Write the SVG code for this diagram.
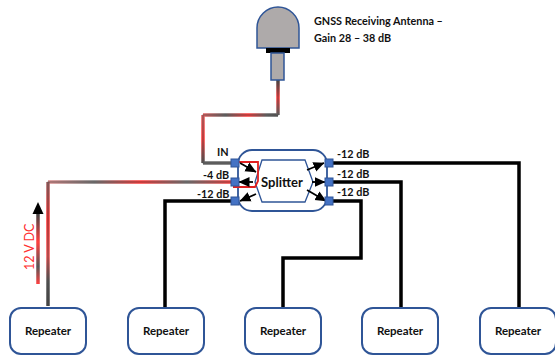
<svg xmlns="http://www.w3.org/2000/svg" width="555" height="356" viewBox="0 0 555 356">
<style>
text{font-family:Lato,"Liberation Sans",sans-serif;font-weight:700;font-size:10.800px;fill:#111}
.rep{fill:#fff;stroke:#2f5597;stroke-width:2}
.rep + text{font-size:11.500px}
.blk{fill:none;stroke:#000;stroke-width:3.5}
.port{fill:#4472c4;stroke:#2f5597;stroke-width:1}
.arr{fill:none;stroke:#000;stroke-width:1.8;marker-end:url(#ah)}
.grey{fill:#aeaaaa;stroke:#2f5597;stroke-width:1.5}
.halo{fill:none;stroke-width:3.500}
.core{fill:none;stroke:#444;stroke-width:1.200}
</style>
<defs>
<marker id="ah" markerUnits="userSpaceOnUse" markerWidth="11" markerHeight="11" refX="10.500" refY="5.500" orient="auto"><path d="M0 0.500L11 5.500L0 10.500Z" fill="#000"/></marker>
<linearGradient id="g1" gradientUnits="userSpaceOnUse" x1="48" y1="0" x2="233" y2="0"><stop offset="0" stop-color="#d98a8a"/><stop offset=".25" stop-color="#777"/><stop offset=".5" stop-color="#ff3a3a"/><stop offset=".75" stop-color="#777"/><stop offset="1" stop-color="#ff3a3a"/></linearGradient>
<linearGradient id="g2" gradientUnits="userSpaceOnUse" x1="0" y1="182" x2="0" y2="306"><stop offset="0" stop-color="#a06060"/><stop offset=".3" stop-color="#ff3030"/><stop offset=".6" stop-color="#ee5050"/><stop offset=".8" stop-color="#555"/><stop offset="1" stop-color="#444"/></linearGradient>
<linearGradient id="g3" gradientUnits="userSpaceOnUse" x1="0" y1="214" x2="0" y2="284"><stop offset="0" stop-color="#444"/><stop offset=".4" stop-color="#ff4040"/><stop offset=".75" stop-color="#555"/><stop offset="1" stop-color="#ff4040"/></linearGradient>
<linearGradient id="g4" gradientUnits="userSpaceOnUse" x1="203" y1="0" x2="278" y2="0"><stop offset="0" stop-color="#e06060"/><stop offset=".3" stop-color="#666"/><stop offset=".6" stop-color="#ff3a3a"/><stop offset=".85" stop-color="#666"/><stop offset="1" stop-color="#555"/></linearGradient>
<linearGradient id="g5" gradientUnits="userSpaceOnUse" x1="0" y1="80" x2="0" y2="115"><stop offset="0" stop-color="#444"/><stop offset=".5" stop-color="#ff3a3a"/><stop offset="1" stop-color="#666"/></linearGradient>
<linearGradient id="g6" gradientUnits="userSpaceOnUse" x1="0" y1="115" x2="0" y2="163"><stop offset="0" stop-color="#e06060"/><stop offset=".5" stop-color="#ff3a3a"/><stop offset="1" stop-color="#555"/></linearGradient>
</defs>
<g id="connectors">
<path class="halo" d="M278 115H203" stroke="url(#g4)"/>
<path class="halo" d="M278 80V115" stroke="url(#g5)"/>
<path class="halo" d="M203 115V163" stroke="url(#g6)"/>
<path class="halo" d="M203 163H232" stroke="#666"/>
<path class="halo" d="M48 182H232" stroke="url(#g1)"/>
<path class="halo" d="M48 306V182" stroke="url(#g2)"/>
<path class="core" d="M278 80V115H203V163H232" opacity=".55"/>
<path class="core" d="M48 306V182H232" opacity=".55"/>
<path class="blk" d="M165 308V201H232"/>
<path class="blk" d="M283 308V258H361V201H332"/>
<path class="blk" d="M401 308V182H332"/>
<path class="blk" d="M519 308V163H332"/>
<path d="M38 284V214" fill="none" stroke="url(#g3)" stroke-width="3.500"/>
<path d="M38 202L43.500 214H32.500Z" fill="#000"/>
</g>
<g id="antenna">
<path class="grey" d="M257 48V28C257 16 267 7 278 7S299 16 299 28V48Z"/>
<rect x="266" y="48" width="24" height="5" fill="#000"/>
<rect class="grey" x="271" y="53" width="13" height="27"/>
<text x="314" y="25">GNSS Receiving Antenna –</text>
<text x="314" y="42">Gain 28 – 38 dB</text>
</g>
<g id="splitter">
<rect x="238" y="150" width="89" height="61" rx="14" fill="#fff" stroke="#2f5597" stroke-width="1.800"/>
<path d="M262 160H305L313 182L305 202H262L255 182Z" fill="#fff" stroke="#2f5597" stroke-width="1.300"/>
<path d="M233 162H258V181L255 187H233" fill="none" stroke="#e02020" stroke-width="1.800"/>
<path class="arr" d="M240 163L256 172"/>
<path class="arr" d="M253 182L239 182"/>
<path class="arr" d="M256 194L240 201"/>
<path class="arr" d="M307 170L324 163"/>
<path class="arr" d="M312 182L325 182"/>
<path class="arr" d="M307 190L326 201"/>
<rect class="port" x="231" y="159" width="8" height="8"/>
<rect class="port" x="231" y="178" width="8" height="8"/>
<rect class="port" x="231" y="197" width="8" height="8"/>
<rect class="port" x="325" y="159" width="8" height="8"/>
<rect class="port" x="325" y="178" width="8" height="8"/>
<rect class="port" x="325" y="197" width="8" height="8"/>
<text x="282" y="187" text-anchor="middle" style="font-size:13px">Splitter</text>
<text x="217" y="156">IN</text>
<text x="203" y="179">-4 dB</text>
<text x="197" y="198">-12 dB</text>
<text x="337" y="158">-12 dB</text>
<text x="337" y="178">-12 dB</text>
<text x="337" y="196">-12 dB</text>
</g>
<g id="label-12v"><text transform="translate(34 270) rotate(-90)" style="fill:#ff3030;font-weight:400;font-size:12.500px">12 V DC</text></g>
<g id="repeater-1"><rect class="rep" x="10" y="308" width="76" height="46" rx="11"/><text x="48" y="335" text-anchor="middle">Repeater</text></g>
<g id="repeater-2"><rect class="rep" x="128" y="308" width="76" height="46" rx="11"/><text x="166" y="335" text-anchor="middle">Repeater</text></g>
<g id="repeater-3"><rect class="rep" x="245" y="308" width="76" height="46" rx="11"/><text x="283" y="335" text-anchor="middle">Repeater</text></g>
<g id="repeater-4"><rect class="rep" x="362" y="308" width="76" height="46" rx="11"/><text x="400" y="335" text-anchor="middle">Repeater</text></g>
<g id="repeater-5"><rect class="rep" x="480" y="308" width="76" height="46" rx="11"/><text x="518" y="335" text-anchor="middle">Repeater</text></g>
</svg>
